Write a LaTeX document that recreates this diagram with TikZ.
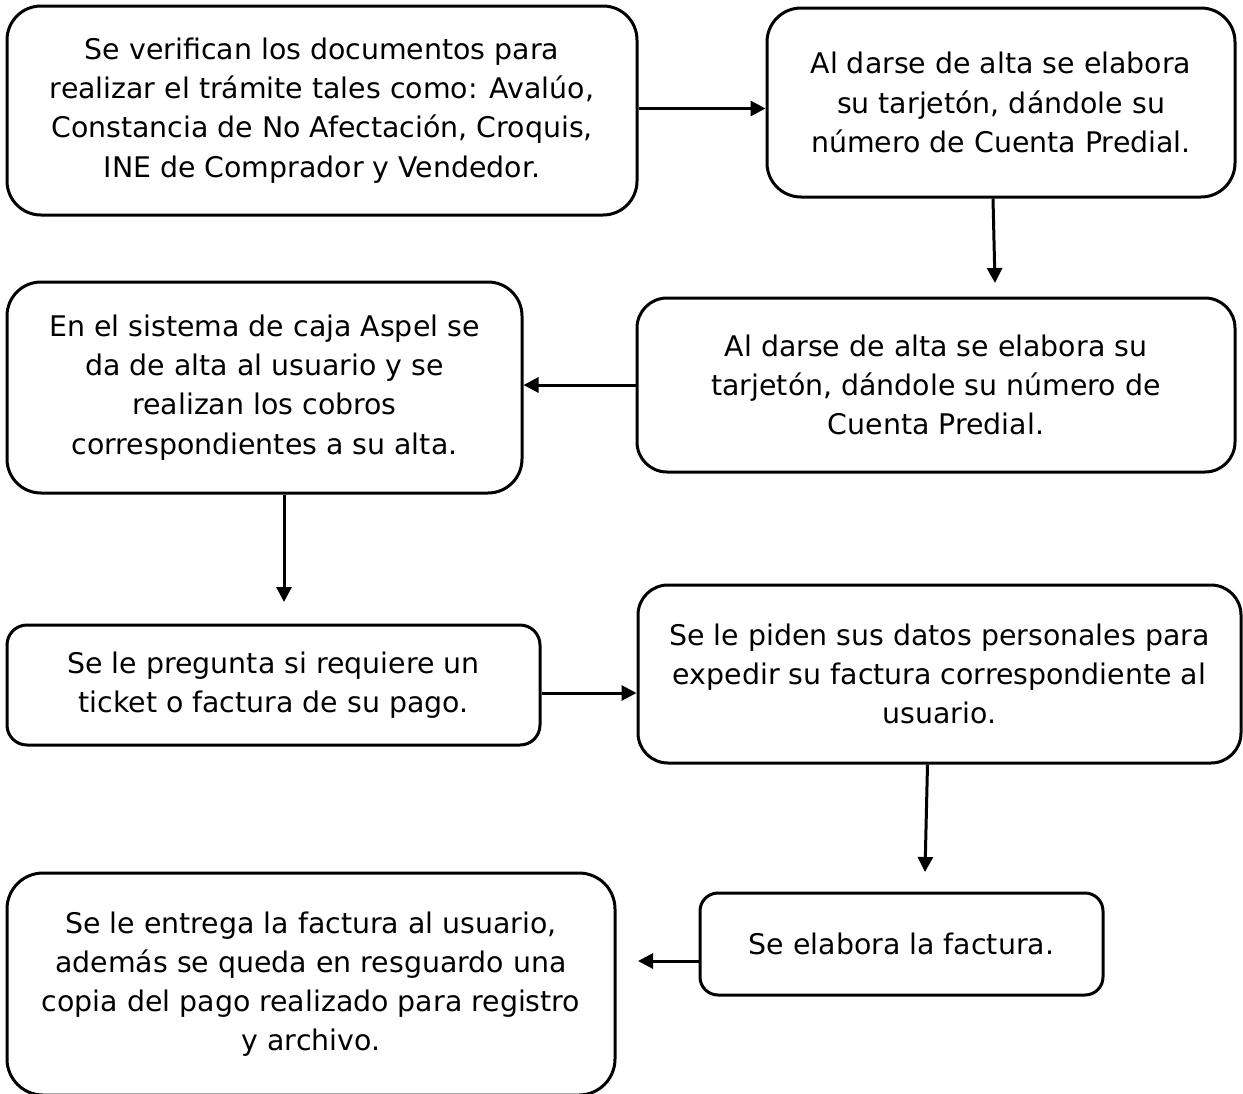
\documentclass[tikz,border=0pt]{standalone}
\usepackage{fontspec}
\setmainfont{DejaVu Sans}
\usetikzlibrary{arrows.meta}

\begin{document}
\begin{tikzpicture}[
    x=0.5pt, y=-0.5pt,
    stepbox/.style={draw, line width=1.5pt, rounded corners=15pt, inner sep=0pt,
      align=center, font=\fontsize{14.2pt}{19.6pt}\selectfont},
    arr/.style={line width=1.5pt, -{Triangle[length=7.5pt, width=7.5pt]}}
]
  \useasboundingbox (0,0) rectangle (1243,1093);
  % Steps
  \node[stepbox, minimum width=315pt, minimum height=104.5pt, rounded corners=17pt] (b1) at (322,110.5)
    {Se verifican los documentos para\\realizar el trámite tales como: Avalúo,\\Constancia de No Afectación, Croquis,\\INE de Comprador y Vendedor.};
  \node[stepbox, minimum width=234pt, minimum height=94.5pt, rounded corners=17pt] (b2) at (1001,102.5)
    {Al darse de alta se elabora\\su tarjetón, dándole su\\número de Cuenta Predial.};
  \node[stepbox, minimum width=299pt, minimum height=87pt] (b3) at (936,385)
    {Al darse de alta se elabora su\\tarjetón, dándole su número de\\Cuenta Predial.};
  \node[stepbox, minimum width=257.5pt, minimum height=105.5pt, rounded corners=17pt] (b4) at (264.5,387.5)
    {En el sistema de caja Aspel se\\da de alta al usuario y se\\realizan los cobros\\correspondientes a su alta.};
  \node[stepbox, minimum width=266.5pt, minimum height=60pt, rounded corners=10pt] (b5) at (273.5,685)
    {Se le pregunta si requiere un\\ticket o factura de su pago.};
  \node[stepbox, minimum width=301.5pt, minimum height=89pt] (b6) at (939.5,674)
    {Se le piden sus datos personales para\\expedir su factura correspondiente al\\usuario.};
  \node[stepbox, minimum width=201.5pt, minimum height=51pt, rounded corners=9pt] (b7) at (901.5,944)
    {Se elabora la factura.};
  \node[stepbox, minimum width=304pt, minimum height=111pt, rounded corners=18pt] (b8) at (311,984)
    {Se le entrega la factura al usuario,\\además se queda en resguardo una\\copia del pago realizado para registro\\y archivo.};
  % Arrow ends
  \coordinate (t2) at (995,283);
  \coordinate (t4) at (284,602);
  \coordinate (t6) at (925,872);
  \coordinate (t7) at (638,961);
  % Connectors
  \draw[arr] ([yshift=1pt]b1.east) -- ([yshift=1pt]b1.east -| b2.west);
  \draw[arr] ([xshift=-4pt]b2.south) -- (t2);
  \draw[arr] (b3.west) -- (b3.west -| b4.east);
  \draw[arr] (t4 |- b4.south) -- (t4);
  \draw[arr] ([yshift=-4pt]b5.east) -- ([yshift=-4pt]b5.east -| b6.west);
  \draw[arr] ([xshift=-6pt]b6.south) -- (t6);
  \draw[arr] (t7 -| b7.west) -- (t7);
\end{tikzpicture}
\end{document}
